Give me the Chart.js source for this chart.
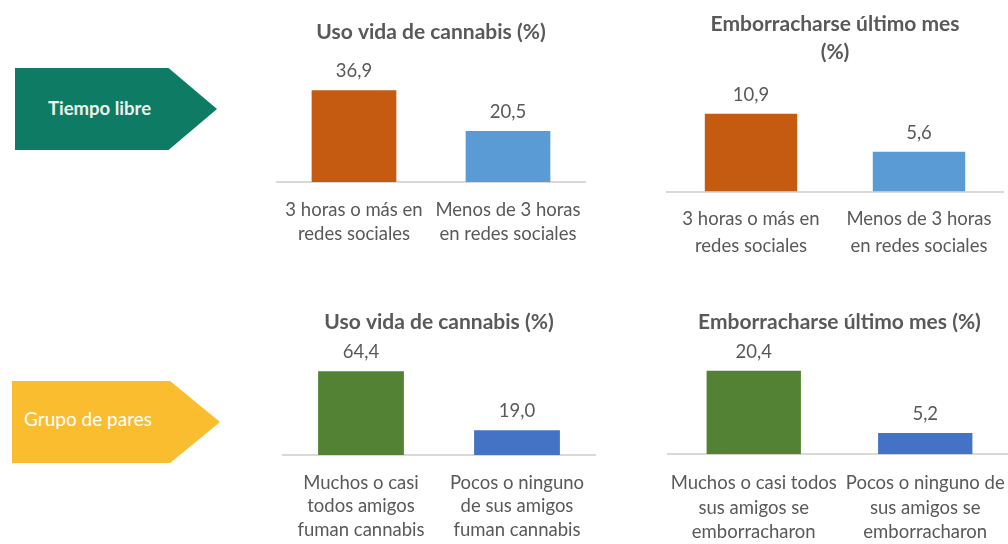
<!DOCTYPE html>
<html>
<head>
<meta charset="utf-8">
<script src="https://cdn.jsdelivr.net/npm/chart.js@4/dist/chart.umd.min.js"></script>
<style>
  html, body { margin: 0; padding: 0; background: #fff; overflow: hidden; }
  body { width: 1008px; height: 544px; position: relative; font-family: Lato, sans-serif; }
  canvas { position: absolute; }
  .tag {
    position: absolute;
    clip-path: polygon(0 0, 76% 0, 100% 50%, 76% 100%, 0 100%);
    color: #fff;
    display: flex;
    align-items: center;
  }
  #tag-free { left: 15px; top: 68px; width: 202px; height: 82px; background: #0e7c65; font-weight: bold; font-size: 18.5px; color: #f0f0ea; }
  #tag-free span { margin-left: 33px; margin-top: -2px; }
  #tag-peers { left: 12px; top: 381px; width: 208px; height: 82px; background: #fbbd30; font-size: 19px; }
  #tag-peers span { margin-left: 12px; margin-top: -8px; }
</style>
</head>
<body>
<div class="tag" id="tag-free"><span>Tiempo libre</span></div>
<div class="tag" id="tag-peers"><span>Grupo de pares</span></div>

<canvas id="chart-cannabis-free" width="348" height="270" style="left:257px;top:0px"></canvas>
<canvas id="chart-drunk-free" width="376" height="280" style="left:647px;top:0px"></canvas>
<canvas id="chart-cannabis-peers" width="352" height="270" style="left:263px;top:290px"></canvas>
<canvas id="chart-drunk-peers" width="383" height="272" style="left:648px;top:290px"></canvas>

<script>
// data
const freeTimeLabels = [
  ["3 horas o más en", "redes sociales"],
  ["Menos de 3 horas", "en redes sociales"],
];
const peerCannabisLabels = [
  ["Muchos o casi", "todos amigos", "fuman cannabis"],
  ["Pocos o ninguno", "de sus amigos", "fuman cannabis"],
];
const peerDrunkLabels = [
  ["Muchos o casi todos", "sus amigos se", "emborracharon"],
  ["Pocos o ninguno de", "sus amigos se", "emborracharon"],
];

const cannabisFreeTime = [36.9, 20.5];
const drunkFreeTime = [10.9, 5.6];
const cannabisPeers = [64.4, 19.0];
const drunkPeers = [20.4, 5.2];

const cannabisTitle = "Uso vida de cannabis (%)";
const drunkTitleSplit = ["Emborracharse último mes", "(%)"];
const drunkTitle = "Emborracharse último mes (%)";

const textColor = "#595959";
const freeTimeColors = ["#c55a11", "#5b9bd5"];
const peerColors = ["#548235", "#4472c4"];

function formatValue(v) {
  return v.toFixed(1).replace(".", ",");
}

// draws the numbers above each bar
const valueLabels = {
  id: "valueLabels",
  afterDatasetsDraw(chart) {
    const ctx = chart.ctx;
    const meta = chart.getDatasetMeta(0);
    const values = chart.data.datasets[0].data;
    ctx.save();
    ctx.font = "18.5px Lato";
    ctx.fillStyle = textColor;
    ctx.textAlign = "center";
    ctx.textBaseline = "middle";
    meta.data.forEach((bar, i) => {
      ctx.fillText(formatValue(values[i]), bar.x, bar.y - 19);
    });
    ctx.restore();
  },
};

function makeChart(id, title, labels, values, colors, yMax, layout) {
  const ctx = document.getElementById(id).getContext("2d");
  return new Chart(ctx, {
    type: "bar",
    data: {
      labels: labels,
      datasets: [
        {
          data: values,
          backgroundColor: colors,
          barPercentage: 0.55,
          categoryPercentage: 1,
        },
      ],
    },
    options: {
      responsive: false,
      animation: false,
      events: [],
      layout: { padding: layout.padding },
      plugins: {
        legend: { display: false },
        tooltip: { enabled: false },
        title: {
          display: true,
          text: title,
          color: textColor,
          font: { family: "Lato", size: 21, weight: "bold", lineHeight: layout.titleLineHeight },
          padding: layout.titlePadding,
        },
      },
      scales: {
        x: {
          grid: { display: false, drawTicks: false },
          border: { display: true, color: "#d9d9d9", width: 2 },
          ticks: {
            color: textColor,
            font: { family: "Lato", size: 18.5, lineHeight: layout.tickLineHeight },
            padding: layout.tickPadding,
            maxRotation: 0,
            minRotation: 0,
            autoSkip: false,
          },
        },
        y: { display: false, min: 0, max: yMax },
      },
    },
    plugins: [valueLabels],
  });
}

makeChart("chart-cannabis-free", cannabisTitle, freeTimeLabels, cannabisFreeTime, freeTimeColors, 40, {
  padding: { left: 20, right: 20, top: 0, bottom: 8 },
  titlePadding: { top: 19.4, bottom: 38 },
  titleLineHeight: 1.2,
  tickLineHeight: 1.35,
  tickPadding: 15,
});

makeChart("chart-drunk-free", drunkTitleSplit, freeTimeLabels, drunkFreeTime, freeTimeColors, 12, {
  padding: { left: 20, right: 20, top: 0, bottom: 6 },
  titlePadding: { top: 10, bottom: 40 },
  titleLineHeight: 1.333,
  tickLineHeight: 1.47,
  tickPadding: 14,
});

makeChart("chart-cannabis-peers", cannabisTitle, peerCannabisLabels, cannabisPeers, peerColors, 70, {
  padding: { left: 20, right: 20, top: 0, bottom: 2.5 },
  titlePadding: { top: 19.4, bottom: 29.4 },
  titleLineHeight: 1.2,
  tickLineHeight: 1.27,
  tickPadding: 16,
});

makeChart("chart-drunk-peers", drunkTitle, peerDrunkLabels, drunkPeers, peerColors, 25, {
  padding: { left: 20, right: 20, top: 0, bottom: 0.5 },
  titlePadding: { top: 19.4, bottom: 17.4 },
  titleLineHeight: 1.2,
  tickLineHeight: 1.32,
  tickPadding: 17,
});
</script>
</body>
</html>
